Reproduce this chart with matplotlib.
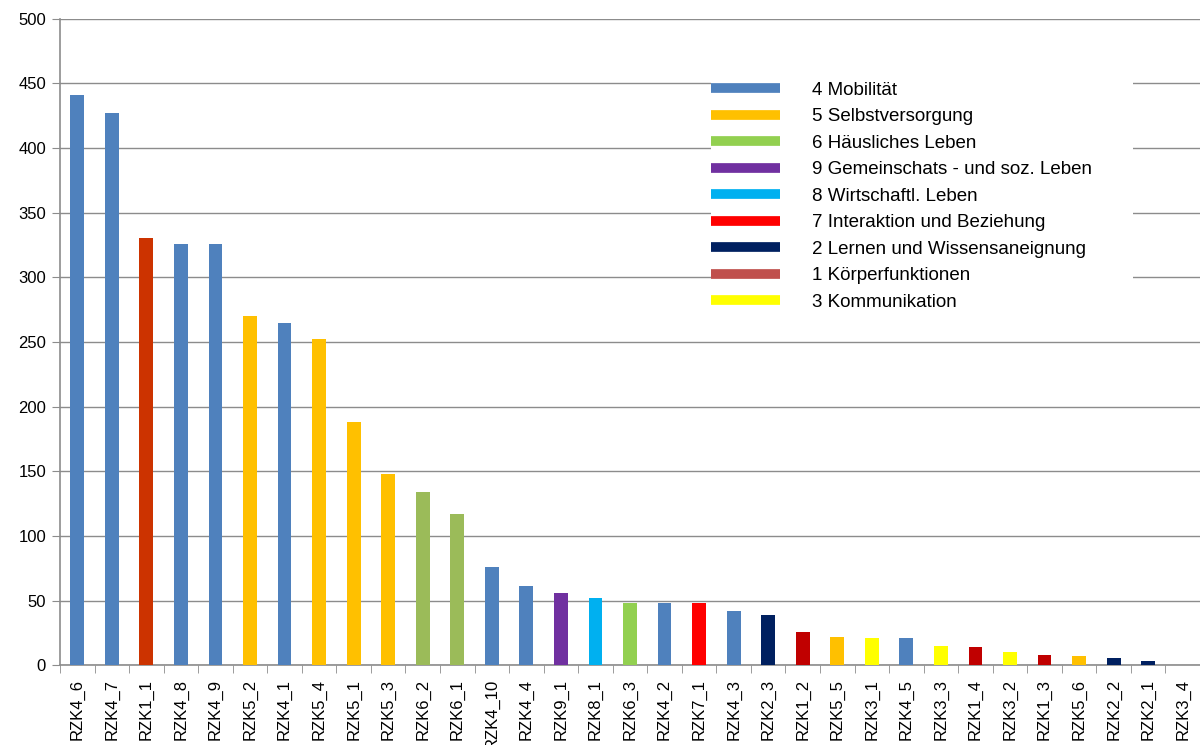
import matplotlib.pyplot as plt
from matplotlib.lines import Line2D
from matplotlib.patches import Rectangle
import numpy as np

labels = ["RZK4_6", "RZK4_7", "RZK1_1", "RZK4_8", "RZK4_9", "RZK5_2", "RZK4_1",
          "RZK5_4", "RZK5_1", "RZK5_3", "RZK6_2", "RZK6_1", "RZK4_10", "RZK4_4",
          "RZK9_1", "RZK8_1", "RZK6_3", "RZK4_2", "RZK7_1", "RZK4_3", "RZK2_3",
          "RZK1_2", "RZK5_5", "RZK3_1", "RZK4_5", "RZK3_3", "RZK1_4", "RZK3_2",
          "RZK1_3", "RZK5_6", "RZK2_2", "RZK2_1", "RZK3_4"]
values = [441, 427, 330, 326, 326, 270, 265, 252, 188, 148, 134, 117, 76, 61,
          56, 52, 48, 48, 48, 42, 39, 26, 22, 21, 21, 15, 14, 10, 8, 7, 6, 3, 0]
bar_colors = ["#4F81BD", "#4F81BD", "#CC3300", "#4F81BD", "#4F81BD", "#FFC000",
              "#4F81BD", "#FFC000", "#FFC000", "#FFC000", "#9BBB59", "#9BBB59",
              "#4F81BD", "#4F81BD", "#7030A0", "#00B0F0", "#92D050", "#4F81BD",
              "#FF0000", "#4F81BD", "#002060", "#C00000", "#FFC000", "#FFFF00",
              "#4F81BD", "#FFFF00", "#C00000", "#FFFF00", "#C00000", "#FFC000",
              "#002060", "#002060", "#FFFF00"]

legend_names = ["4 Mobilität", "5 Selbstversorgung", "6 Häusliches Leben",
                "9 Gemeinschats - und soz. Leben", "8 Wirtschaftl. Leben",
                "7 Interaktion und Beziehung", "2 Lernen und Wissensaneignung",
                "1 Körperfunktionen", "3 Kommunikation"]
legend_colors = ["#4F81BD", "#FFC000", "#92D050", "#7030A0", "#00B0F0",
                 "#FF0000", "#002060", "#C0504D", "#FFFF00"]

plt.rcParams['font.family'] = ['Liberation Sans', 'DejaVu Sans']

fig = plt.figure(figsize=(12, 7.45), dpi=100)
ax = fig.add_axes([0.05, 0.107, 0.95, 0.868])

x = np.arange(len(labels))
ax.bar(x, values, width=0.4, color=bar_colors, zorder=3)

ax.set_xlim(-0.5, len(labels) - 0.5)
ax.set_ylim(0, 500)
ax.set_yticks(np.arange(0, 501, 50))
ax.yaxis.grid(True, color="#8C8C8C", linewidth=1, zorder=0)

ax.set_xticks(x)
ax.set_xticklabels(labels, rotation=90, fontsize=12)
ax.set_xticks(np.arange(-0.5, len(labels), 1), minor=True)
ax.tick_params(axis="x", which="major", length=0, pad=10)
ax.tick_params(axis="x", which="minor", length=6, color="#8C8C8C")
ax.tick_params(axis="y", length=6, color="#8C8C8C", labelsize=12, pad=4)

for side in ("top", "right"):
    ax.spines[side].set_visible(False)
for side in ("left", "bottom"):
    ax.spines[side].set_color("#8C8C8C")
    ax.spines[side].set_linewidth(1.2)

# white area behind the legend hides the gridlines there
ax.add_patch(Rectangle((0.571, 0.54), 0.37, 0.38, transform=ax.transAxes,
                       facecolor="white", edgecolor="none", zorder=2))

handles = [Line2D([0], [0], color=c, linewidth=7, solid_capstyle="butt")
           for c in legend_colors]
leg = ax.legend(handles, legend_names, loc="upper left",
                bbox_to_anchor=(0.5693, 0.9056), frameon=False, fontsize=13.5,
                handlelength=3.68, handletextpad=1.7, labelspacing=0.5,
                borderpad=0.1, borderaxespad=0)
leg.set_zorder(5)

fig.savefig("out.png", dpi=100)
